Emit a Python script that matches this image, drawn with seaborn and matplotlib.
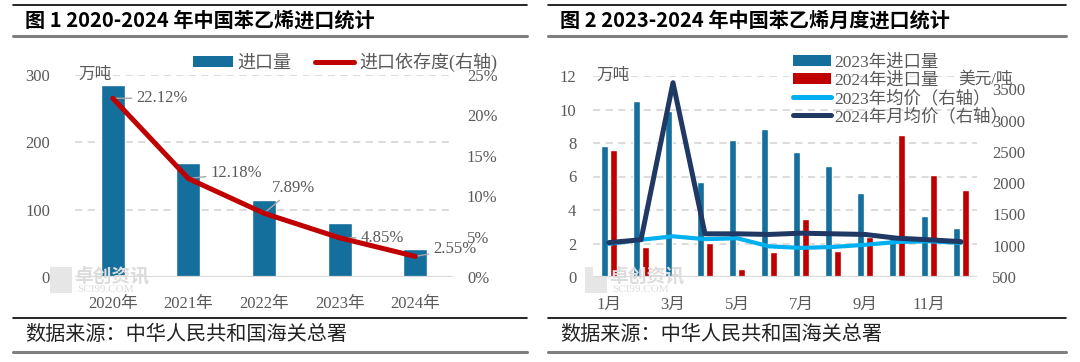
import matplotlib
matplotlib.use('Agg')
import matplotlib.pyplot as plt
import seaborn as sns
import numpy as np
import pandas as pd
from matplotlib.lines import Line2D
from matplotlib.patches import Patch, Rectangle

sns.set_theme(style="white")
plt.rcParams['font.family'] = ['Liberation Serif', 'Noto Sans CJK SC', 'DejaVu Sans']
plt.rcParams['axes.unicode_minus'] = False

# ---- data: chart 1 (annual) ----
years = ['2020年', '2021年', '2022年', '2023年', '2024年']
import_vol = [285, 170, 115, 80, 41]              # 万吨
dependence = [22.12, 12.18, 7.89, 4.85, 2.55]     # %

# ---- data: chart 2 (monthly) ----
months = ['1月', '2月', '3月', '4月', '5月', '6月', '7月', '8月', '9月', '10月', '11月', '12月']
vol_2023 = [7.8, 10.5, 9.9, 5.7, 8.2, 8.85, 7.45, 6.6, 5.0, 2.3, 3.65, 2.95]
vol_2024 = [7.6, 1.8, 0.0, 2.05, 0.5, 1.5, 3.45, 1.55, 2.4, 8.5, 6.1, 5.2]
price_2023 = [1030, 1095, 1150, 1105, 1120, 990, 965, 980, 1015, 1060, 1070, 1045]
price_2024 = [1050, 1095, 3605, 1190, 1190, 1180, 1200, 1190, 1180, 1120, 1095, 1065]

BLUE = '#156F9C'
RED = '#C00000'
LIGHT = '#00B0F0'
NAVY = '#203864'
GRAY_TXT = '#595959'
GRID = '#D9D9D9'

W, H = 1080, 362
fig = plt.figure(figsize=(W / 100, H / 100), dpi=100)
fig.patch.set_facecolor('white')


def fx(px):
    return px / W


def fy(py):
    return 1 - py / H


def hline(x0, x1, y, color, lw):
    fig.add_artist(Line2D([fx(x0), fx(x1)], [fy(y), fy(y)], color=color, lw=lw,
                          transform=fig.transFigure))


def frame(x0, x1, title):
    hline(x0, x1, 5, 'black', 1.2)
    hline(x0, x1, 36, '#7F7F7F', 2.2)
    hline(x0, x1, 318, 'black', 1.2)
    hline(x0, x1, 352, '#7F7F7F', 2.2)
    fig.text(fx(x0 + 12), fy(20), title, fontsize=14.5, fontweight='bold',
             family=['Noto Sans CJK SC'], color='black', va='center', ha='left')
    fig.text(fx(x0 + 12), fy(334), '数据来源：中华人民共和国海关总署', fontsize=14.5,
             family=['Noto Sans CJK SC'], color='#222222', va='center', ha='left')


def watermark(x, y):
    # faint publisher mark in the lower-left corner of the plot
    fig.add_artist(Rectangle((fx(x), fy(y + 26)), fx(22), 26 / H, transform=fig.transFigure,
                             facecolor='#E6E6E6', edgecolor='none', zorder=0))
    fig.text(fx(x + 24), fy(y + 9), '卓创资讯', fontsize=13.5, fontweight='bold',
             family=['Noto Sans CJK SC'], color='#DCDCDC', va='center', zorder=0)
    fig.text(fx(x + 27), fy(y + 22), 'SCI99.COM', fontsize=8, color='#DCDCDC', va='center', zorder=0)


def style_axes(ax):
    for s in ax.spines.values():
        s.set_visible(False)
    ax.tick_params(length=0, colors=GRAY_TXT)
    ax.set_xlabel('')
    ax.set_ylabel('')


frame(13, 527, '图 1 2020-2024 年中国苯乙烯进口统计')
frame(548, 1066, '图 2 2023-2024 年中国苯乙烯月度进口统计')
watermark(50, 267)
watermark(585, 267)

# ================= chart 1 =================
ax1 = fig.add_axes([fx(75), fy(277), fx(453) - fx(75), fy(75) - fy(277)])
df1 = pd.DataFrame({'year': years, 'vol': import_vol})
sns.barplot(data=df1, x='year', y='vol', color=BLUE, saturation=1, width=0.32, ax=ax1, zorder=2)
ax1.set_ylim(0, 300)
ax1.set_xlim(-0.5, 4.5)
ax1.set_yticks([0, 100, 200, 300])
for v in [100, 200, 300]:
    ax1.axhline(v, color=GRID, lw=1.3, ls=(0, (4, 3)), zorder=1)
ax1.axhline(0, color=GRID, lw=1.6, zorder=3)
style_axes(ax1)
ax1.tick_params(axis='y', pad=18, labelsize=12)
ax1.tick_params(axis='x', pad=14, labelsize=12)
ax1.text(0.01, 300, '万吨', fontsize=12, color=GRAY_TXT, va='center', ha='left',
         transform=ax1.get_yaxis_transform())

ax1b = ax1.twinx()
x1 = np.arange(len(years))
sns.lineplot(x=x1, y=dependence, color=RED, lw=3.6, ax=ax1b, zorder=4)
ax1b.set_ylim(0, 25)
ax1b.set_yticks([0, 5, 10, 15, 20, 25])
ax1b.set_yticklabels([f'{v}%' for v in [0, 5, 10, 15, 20, 25]])
style_axes(ax1b)
ax1b.tick_params(axis='y', pad=10, labelsize=12)

offsets = [(17, 0), (16, 4), (6, 18), (15, 0), (13, 5)]
for xi, v, off in zip(x1, dependence, offsets):
    ax1b.annotate(f'{v:.2f}%', (xi, v), xytext=off, textcoords='offset points',
                  ha='left', va='center', fontsize=12, color=GRAY_TXT,
                  arrowprops=dict(arrowstyle='-', color='#A6A6A6', lw=1, shrinkA=1, shrinkB=0))

handles1 = [Patch(facecolor=BLUE, edgecolor='none'), Line2D([], [], color=RED, lw=3.6)]
fig.legend(handles1, ['进口量', '进口依存度(右轴)'], loc='center left',
           bbox_to_anchor=(fx(184), fy(62)), ncol=2, frameon=False, fontsize=13,
           handlelength=2.2, handleheight=0.6, handletextpad=0.25, columnspacing=1.3,
           borderpad=0, labelcolor=GRAY_TXT)

# ================= chart 2 =================
ax2 = fig.add_axes([fx(593), fy(277), fx(977) - fx(593), fy(76) - fy(277)])
df2 = pd.DataFrame({
    'month': months * 2,
    'vol': vol_2023 + vol_2024,
    'series': ['2023年进口量'] * 12 + ['2024年进口量'] * 12,
})
sns.barplot(data=df2, x='month', y='vol', hue='series', palette=[BLUE, RED], saturation=1,
            width=0.6, gap=0.25, ax=ax2, zorder=2, legend=False)
ax2.set_ylim(0, 12)
ax2.set_xlim(-0.5, 11.5)
ax2.set_yticks([0, 2, 4, 6, 8, 10, 12])
for v in [2, 4, 6, 8, 10, 12]:
    ax2.axhline(v, color=GRID, lw=1.3, ls=(0, (4, 3)), zorder=1)
ax2.axhline(0, color=GRID, lw=1.6, zorder=3)
ax2.set_xticks(range(0, 12, 2))
ax2.set_xticklabels(months[0::2])
style_axes(ax2)
ax2.tick_params(axis='y', pad=12, labelsize=12)
ax2.tick_params(axis='x', pad=14, labelsize=12)
ax2.text(0.01, 12, '万吨', fontsize=12, color=GRAY_TXT, va='center', ha='left',
         transform=ax2.get_yaxis_transform())

ax2b = ax2.twinx()
x2 = np.arange(len(months))
sns.lineplot(x=x2, y=price_2023, color=LIGHT, lw=3.0, ax=ax2b, zorder=4)
sns.lineplot(x=x2, y=price_2024, color=NAVY, lw=3.6, ax=ax2b, zorder=5)
ax2b.set_ylim(500, 3712)
ax2b.set_yticks([500, 1000, 1500, 2000, 2500, 3000, 3500])
style_axes(ax2b)
ax2b.tick_params(axis='y', pad=11, labelsize=12)
fig.text(fx(958), fy(80), '美元/吨', fontsize=12, color=GRAY_TXT, va='center', ha='left')

handles2 = [Patch(facecolor=BLUE, edgecolor='none'), Patch(facecolor=RED, edgecolor='none'),
            Line2D([], [], color=LIGHT, lw=3.6, solid_capstyle='round'),
            Line2D([], [], color=NAVY, lw=3.6, solid_capstyle='round')]
fig.legend(handles2, ['2023年进口量', '2024年进口量', '2023年均价（右轴）', '2024年月均价（右轴）'],
           loc='upper left', bbox_to_anchor=(fx(784), fy(46)), ncol=1, frameon=False,
           fontsize=12.5, handlelength=2.2, handleheight=0.6, handletextpad=0.2,
           labelspacing=0.08, borderpad=0, labelcolor=GRAY_TXT)

fig.savefig('out.png', dpi=100, facecolor='white')
